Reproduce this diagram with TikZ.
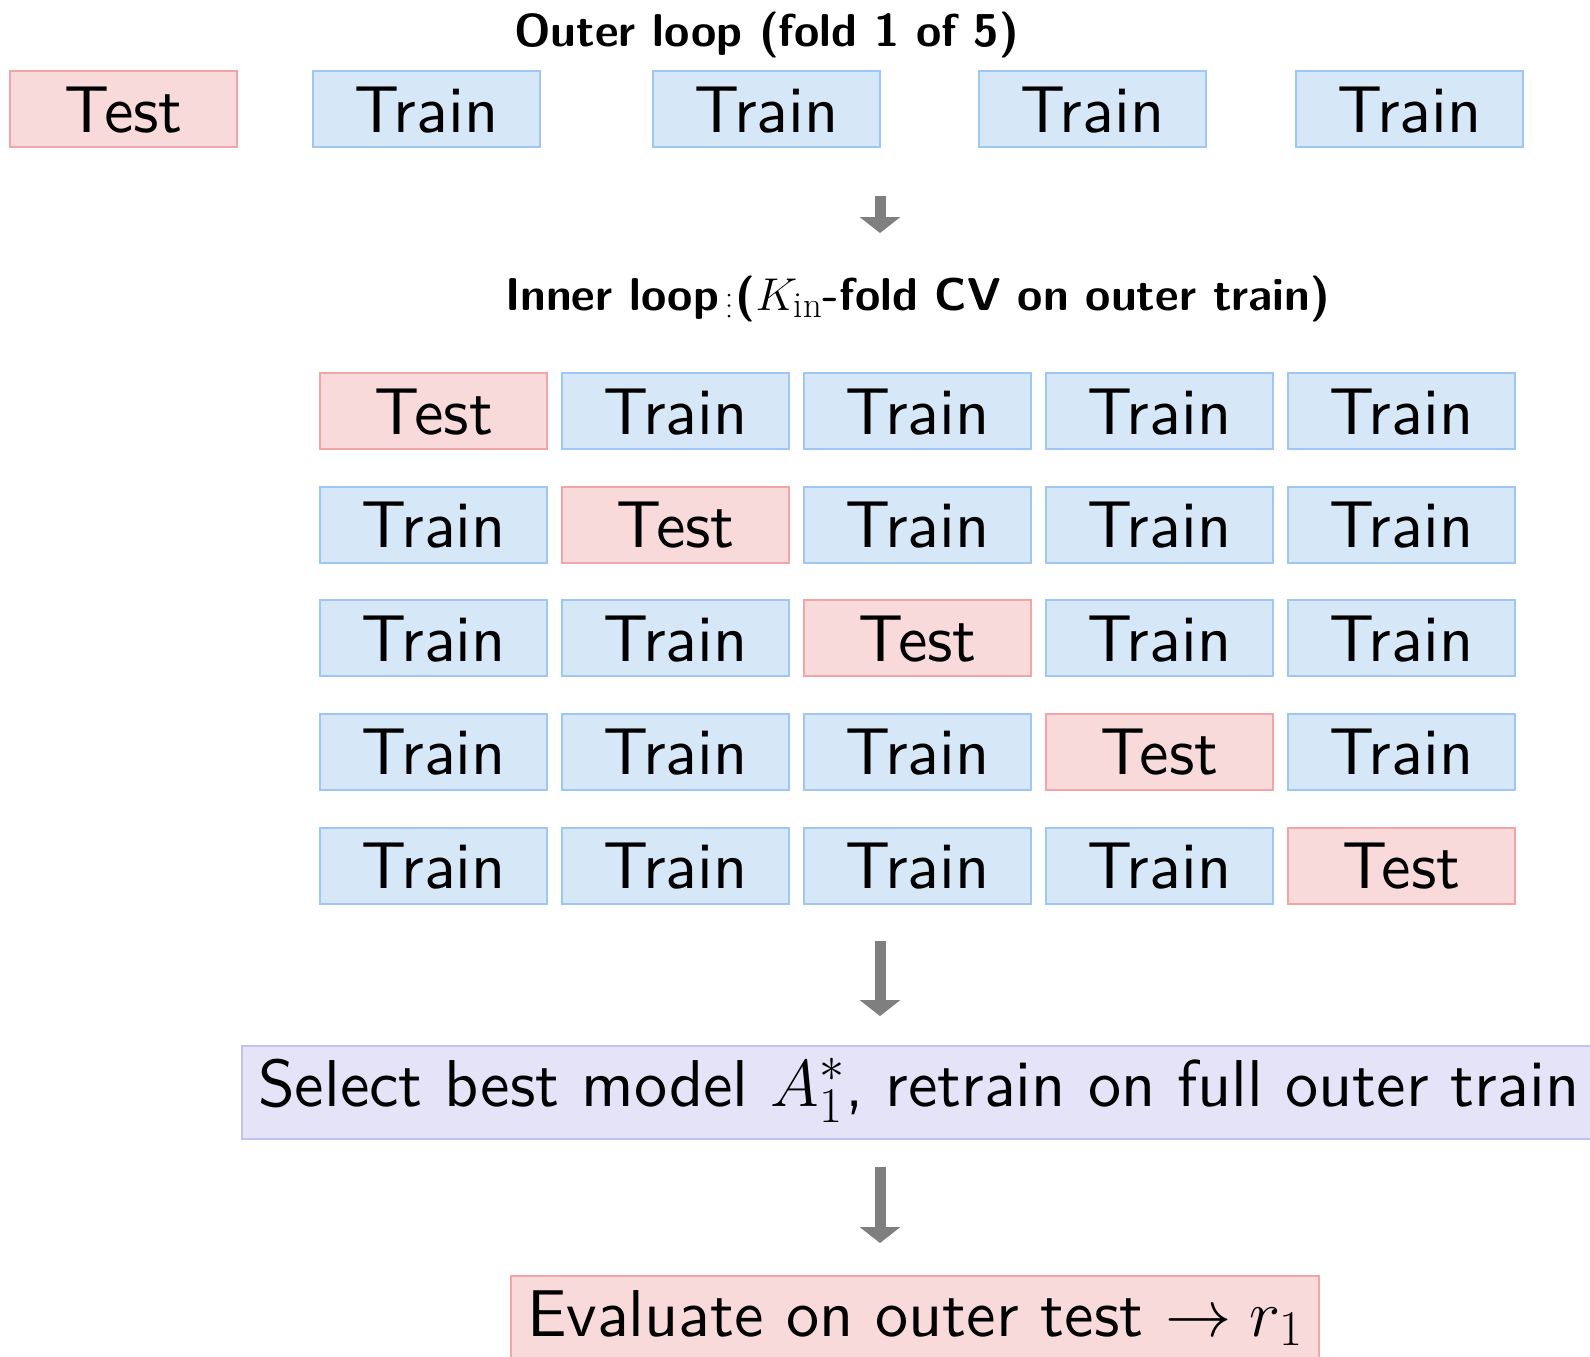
\RequirePackage{fix-cm}
\documentclass[tikz,border=0pt]{standalone}
\usepackage{fontspec}
\setsansfont{lmsans10-regular}[Extension=.otf, BoldFont=lmsans10-bold]
\DeclareMathSizes{23}{23}{18.4}{13}
\DeclareMathSizes{33.1}{33.1}{25}{18}
\usetikzlibrary{arrows.meta}
\definecolor{testfill}{HTML}{F9DADB}
\definecolor{testdraw}{HTML}{F2A5A6}
\definecolor{trainfill}{HTML}{D6E7F8}
\definecolor{traindraw}{HTML}{9EC8F2}
\definecolor{selfill}{HTML}{E5E3F7}
\definecolor{seldraw}{HTML}{C5C1EE}
\definecolor{flowgray}{HTML}{7F7F7F}
\tikzset{
  fold/.style={line width=1pt, minimum width=113.5pt, minimum height=38pt,
    inner sep=0pt, text height=30.5pt, text depth=7.5pt,
    font=\sffamily\fontsize{33.1}{40}\selectfont},
  testbox/.style={fold, draw=testdraw, fill=testfill},
  trainbox/.style={fold, draw=traindraw, fill=trainfill},
  stagebox/.style={line width=1pt, anchor=north west, inner xsep=8pt, inner ysep=0pt,
    text height=30pt, text depth=16.5pt, font=\sffamily\fontsize{33.1}{40}\selectfont},
  title/.style={anchor=base, font=\sffamily\bfseries\fontsize{23}{28}\selectfont},
  flow/.style={draw=flowgray, line width=5.5pt, -{Triangle[width=20pt, length=8pt]}},
}
\begin{document}
\begin{tikzpicture}[x=0.5pt, y=-0.5pt]
\path[use as bounding box] (0,0) rectangle (1590,1356);
\clip (0,0) rectangle (1590,1356);

% outer split
\node[title] (outertitle) at (766.6,46) {Outer loop (fold 1 of 5)};
\node[testbox]  (o1) at (123.7,109) {Test};
\node[trainbox] (o2) at (426.4,109) {Train};
\node[trainbox] (o3) at (766.6,109) {Train};
\node[trainbox] (o4) at (1092.1,109) {Train};
\node[trainbox] (o5) at (1409.5,109) {Train};

\coordinate (a1s) at (880,196);
\coordinate (a1e) at (880,233);
\draw[flow] (a1s) -- (a1e);

% inner cross-validation grid
\node[title] (innertitle) at (917.6,310) {Inner loop ($K_{\mathrm{in}}$-fold CV on outer train)};
\foreach \d in {295,305.5,316} \fill (729,\d) circle[radius=1.5];

\foreach \r/\y in {1/411.2,2/524.7,3/638.3,4/751.9,5/865.5}{
  \foreach \c/\x in {1/433.9,2/675.7,3/917.5,4/1159.3,5/1401.1}{
    \ifnum\r=\c
      \node[testbox] (g\r\c) at (\x,\y) {Test};
    \else
      \node[trainbox] (g\r\c) at (\x,\y) {Train};
    \fi
  }
}

\coordinate (a2s) at (880,941);
\coordinate (a2e) at (880,1016);
\draw[flow] (a2s) -- (a2e);

\node[stagebox, draw=seldraw, fill=selfill] (select) at (241,1045)
  {Select best model $A_1^*$, retrain on full outer train};

\coordinate (a3s) at (880,1167);
\coordinate (a3e) at (880,1243);
\draw[flow] (a3s) -- (a3e);

\node[stagebox, draw=testdraw, fill=testfill] (eval) at (510,1275)
  {Evaluate on outer test $\rightarrow r_1$};
\end{tikzpicture}
\end{document}
